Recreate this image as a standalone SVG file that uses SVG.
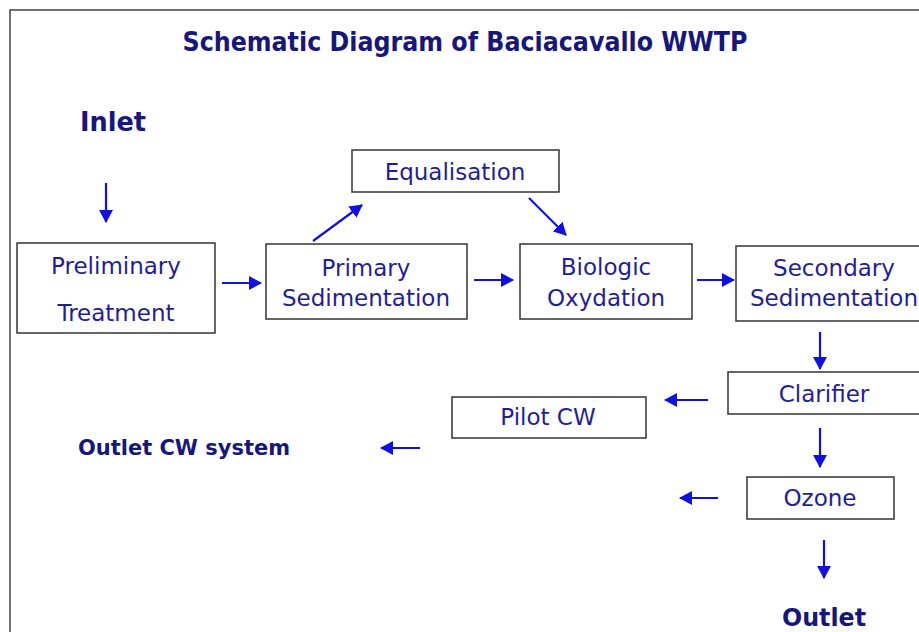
<svg xmlns="http://www.w3.org/2000/svg" width="919" height="632" viewBox="0 0 919 632">
<style>
.box{fill:#fff;stroke:#333;stroke-width:1.5}
.lbl{font-family:"DejaVu Sans",Verdana,sans-serif;font-size:23px;fill:#1e1e9c;text-anchor:middle}
.hd{font-family:"DejaVu Sans",Verdana,sans-serif;font-weight:bold;fill:#16167e}
.arr{stroke:#1010e0;stroke-width:2.2;fill:none;marker-end:url(#ah)}
</style>
<defs>
<marker id="ah" markerUnits="userSpaceOnUse" markerWidth="14" markerHeight="14" refX="12" refY="7" orient="auto">
<path d="M0,0 L13,7 L0,14 Z" fill="#1010e0"/>
</marker>
</defs>
<rect width="919" height="632" fill="#fff"/>
<path d="M10,632 V10 H919" fill="none" stroke="#444" stroke-width="1.5"/>
<text class="hd" x="465" y="51" font-size="26" text-anchor="middle" textLength="565" lengthAdjust="spacingAndGlyphs">Schematic Diagram of Baciacavallo WWTP</text>
<text class="hd" x="80" y="131" font-size="27" textLength="66" lengthAdjust="spacingAndGlyphs">Inlet</text>
<text class="hd" x="78" y="455" font-size="22" textLength="212" lengthAdjust="spacingAndGlyphs">Outlet CW system</text>
<text class="hd" x="824" y="626" font-size="25" text-anchor="middle" textLength="84" lengthAdjust="spacingAndGlyphs">Outlet</text>

<g id="preliminary"><rect class="box" x="17" y="243" width="198" height="90"/>
<text class="lbl" x="116" y="274">Preliminary</text><text class="lbl" x="116" y="321">Treatment</text></g>
<g id="primary"><rect class="box" x="266" y="244" width="201" height="75"/>
<text class="lbl" x="366" y="276">Primary</text><text class="lbl" x="366" y="306">Sedimentation</text></g>
<g id="equalisation"><rect class="box" x="352" y="150" width="207" height="42"/>
<text class="lbl" x="455" y="180">Equalisation</text></g>
<g id="biologic"><rect class="box" x="520" y="244" width="172" height="75"/>
<text class="lbl" x="606" y="275">Biologic</text><text class="lbl" x="606" y="306">Oxydation</text></g>
<g id="secondary"><rect class="box" x="736" y="246" width="190" height="75"/>
<text class="lbl" x="834" y="276">Secondary</text><text class="lbl" x="834" y="306">Sedimentation</text></g>
<g id="clarifier"><rect class="box" x="728" y="372" width="198" height="42"/>
<text class="lbl" x="824" y="402">Clarifier</text></g>
<g id="pilot"><rect class="box" x="452" y="397" width="194" height="41"/>
<text class="lbl" x="548" y="425">Pilot CW</text></g>
<g id="ozone"><rect class="box" x="747" y="477" width="147" height="42"/>
<text class="lbl" x="820" y="506">Ozone</text></g>

<g id="connectors">
<line class="arr" x1="106" y1="183" x2="106" y2="222"/>
<line class="arr" x1="222" y1="283" x2="261" y2="283"/>
<line class="arr" x1="313" y1="241" x2="362" y2="205"/>
<line class="arr" x1="529" y1="198" x2="566" y2="235"/>
<line class="arr" x1="474" y1="280" x2="513" y2="280"/>
<line class="arr" x1="697" y1="280" x2="734" y2="280"/>
<line class="arr" x1="820" y1="332" x2="820" y2="369"/>
<line class="arr" x1="708" y1="400" x2="665" y2="400"/>
<line class="arr" x1="420" y1="448" x2="381" y2="448"/>
<line class="arr" x1="820" y1="428" x2="820" y2="467"/>
<line class="arr" x1="718" y1="498" x2="680" y2="498"/>
<line class="arr" x1="824" y1="540" x2="824" y2="578"/>
</g>
</svg>
